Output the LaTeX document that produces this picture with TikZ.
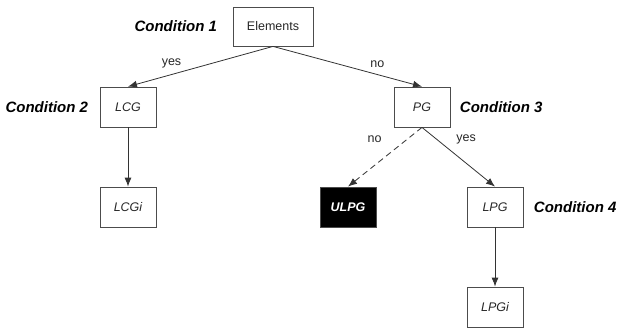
\documentclass[tikz,border=0pt]{standalone}
\usepackage{fontspec}
\setmainfont{Liberation Sans}
\usetikzlibrary{arrows.meta}

\begin{document}
\begin{tikzpicture}[x=1pt,y=-1pt,>={Latex[length=9pt,width=7pt]},
		box/.style={draw=black!70,line width=0.8pt,minimum width=56pt,minimum height=40pt,inner sep=0pt,text=black!85,font=\fontsize{12.5}{15}\selectfont\itshape},
		cond/.style={font=\fontsize{15}{18}\selectfont\bfseries\itshape},
		lbl/.style={text=black!85,font=\fontsize{12.5}{15}\selectfont},
		edge/.style={draw=black!80,line width=0.8pt,->}]
				\useasboundingbox (0,0) rectangle (617,327);
				\coordinate (E) at (273,26.5);
				\coordinate (L) at (128,107);
				\coordinate (Li) at (128,207);
				\coordinate (P) at (422,107);
				\coordinate (U) at (348,207);
				\coordinate (Q) at (495,207);
				\coordinate (Qi) at (495,307);
				
				\node (elem) at (E) [box,minimum width=80pt,minimum height=39pt,font=\fontsize{12.5}{15}\selectfont] {Elements};
				\node (lcg) at (L) [box] {LCG};
				\node (lcgi) at (Li) [box] {LCGi};
				\node (pg) at (P) [box] {PG};
				\node (ulpg) at (U) [box,fill=black,text=white,font=\fontsize{12.5}{15}\selectfont\bfseries\itshape] {ULPG};
				\node (lpg) at (Q) [box] {LPG};
				\node (lpgi) at (Qi) [box] {LPGi};
				
				\node at (elem.west) [cond,anchor=east,xshift=-12pt] {Condition 1};
				\node at (lcg.west) [cond,anchor=east,xshift=-8pt] {Condition 2};
				\node at (pg.east) [cond,anchor=west,xshift=6pt] {Condition 3};
				\node at (lpg.east) [cond,anchor=west,xshift=7pt] {Condition 4};
				
				\draw[edge] (elem.south) -- (lcg.north) node[lbl,pos=0.7,above=3pt]{yes};
				\draw[edge] (elem.south) -- (pg.north) node[lbl,pos=0.7,above=3pt]{no};
				\draw[edge] (lcg) -- (lcgi);
				\draw[edge,dash pattern=on 6pt off 4pt] (pg.south) -- (ulpg.north) node[lbl,pos=0.2,left=22pt]{no};
				\draw[edge] (pg.south) -- (lpg.north) node[lbl,pos=0.2,right=16pt]{yes};
				\draw[edge] (lpg) -- (lpgi);
			\end{tikzpicture}
\end{document}
